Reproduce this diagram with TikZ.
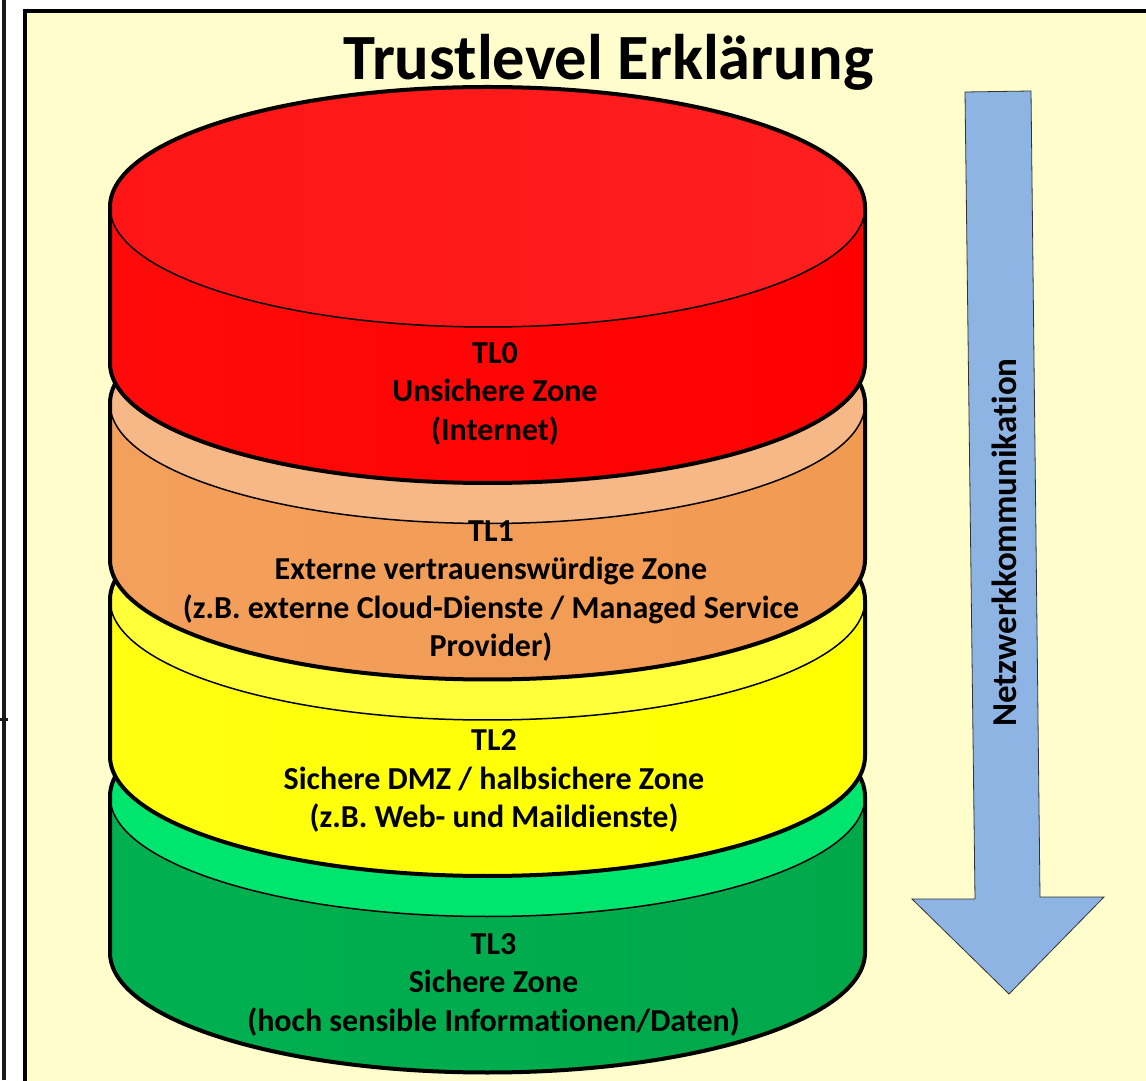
\documentclass[tikz,border=0pt]{standalone}
\usepackage{fontspec}
\setmainfont[Ligatures=NoCommon]{Carlito}
\definecolor{panel}{HTML}{FFFDCC}
\definecolor{arrowblue}{HTML}{8EB4E3}
\definecolor{redA}{HTML}{FF0A0A}\definecolor{redB}{HTML}{F23F3F}\definecolor{redC}{HTML}{FF0000}
\definecolor{redTa}{HTML}{FF1515}\definecolor{redTb}{HTML}{FF3B3B}\definecolor{redTc}{HTML}{FF1F1F}
\definecolor{orA}{HTML}{F3A05C}\definecolor{orB}{HTML}{F6B382}\definecolor{orC}{HTML}{F19A52}
\definecolor{orT}{HTML}{F6B887}
\definecolor{yeA}{HTML}{FFFF10}\definecolor{yeB}{HTML}{FFFF45}\definecolor{yeC}{HTML}{FFFF00}
\definecolor{yeT}{HTML}{FFFF3A}
\definecolor{grA}{HTML}{00B050}\definecolor{grB}{HTML}{00C85C}\definecolor{grC}{HTML}{00A84A}
\definecolor{grT}{HTML}{00E56E}
\newcommand\trcyl[8]{%
  % #1 Yt, #2 Yb, #3 top-left, #4 top-mid, #5 top-right, #6 side-left, #7 side-mid, #8 side-right
  \path[left color=#6, middle color=#7, right color=#8]
    (110,#1) -- (110,#2) arc[start angle=180, end angle=360, x radius=377.5, y radius=120]
    -- (865,#1) arc[start angle=0, end angle=180, x radius=377.5, y radius=120] -- cycle;
  \path[left color=#3, middle color=#4, right color=#5]
    (487.5,#1) ellipse[x radius=377.5, y radius=120];
  \draw[line width=1.5pt] (110,#1) arc[start angle=180, end angle=360, x radius=377.5, y radius=120];
  \draw[line width=4pt, line join=round]
    (110,#1) -- (110,#2) arc[start angle=180, end angle=360, x radius=377.5, y radius=120]
    -- (865,#1) arc[start angle=0, end angle=180, x radius=377.5, y radius=120] -- cycle;
}
\tikzset{
  zonetext/.style={align=center, font=\bfseries\fontsize{32}{38.5}\selectfont, inner sep=0pt},
}
\begin{document}
\begin{tikzpicture}[x=1pt,y=1pt]
\useasboundingbox (0,0) rectangle (1146,1080);
\fill[white] (0,0) rectangle (1146,1080);
\begin{scope}
\clip (0,0) rectangle (1146,1080);
% left stray line
\draw[line width=3.5pt, black!90] (4,0) -- (4,1080);
\draw[line width=3pt, black!90] (0,360) -- (8,360);
% panel
\draw[line width=4pt, fill=panel] (25,1069) rectangle (1170,-20);
\end{scope}
% title
\node[font=\bfseries\fontsize{64.5}{70}\selectfont, anchor=base, inner sep=0pt] (title) at (608.5,1000) {Trustlevel Erklärung};
% cylinders (bottom first)
\trcyl{283.5}{127.5}{grT}{grT}{grT}{grA}{grB}{grC}
\trcyl{480}{324}{yeT}{yeT}{yeT}{yeA}{yeB}{yeC}
\trcyl{676.5}{520.5}{orT}{orT}{orT}{orA}{orB}{orC}
\trcyl{873}{717}{redTa}{redTb}{redTc}{redA}{redB}{redC}
% zone texts
\node[zonetext] (tl0) at (495,686.5) {TL0\\Unsichere Zone\\(Internet)};
\node[zonetext] (tl1) at (491,489) {TL1\\Externe vertrauenswürdige Zone\\(z.B. externe Cloud-Dienste / Managed Service\\Provider)};
\node[zonetext] (tl2) at (494,299) {TL2\\Sichere DMZ / halbsichere Zone\\(z.B. Web- und Maildienste)};
\node[zonetext] (tl3) at (493.5,95.5) {TL3\\Sichere Zone\\(hoch sensible Informationen/Daten)};
% arrow
\draw[fill=arrowblue, draw=black!80, line width=0.8pt, line join=miter]
  (965,988) -- (1031,989) -- (1040,183) -- (1104,183) -- (1009,86) -- (912,181) -- (975,181) -- cycle;
\node[font=\bfseries\fontsize{35}{38}\selectfont, rotate=90, inner sep=0pt] (netz) at (1004,537.5) {Netzwerkkommunikation};
\end{tikzpicture}
\end{document}
